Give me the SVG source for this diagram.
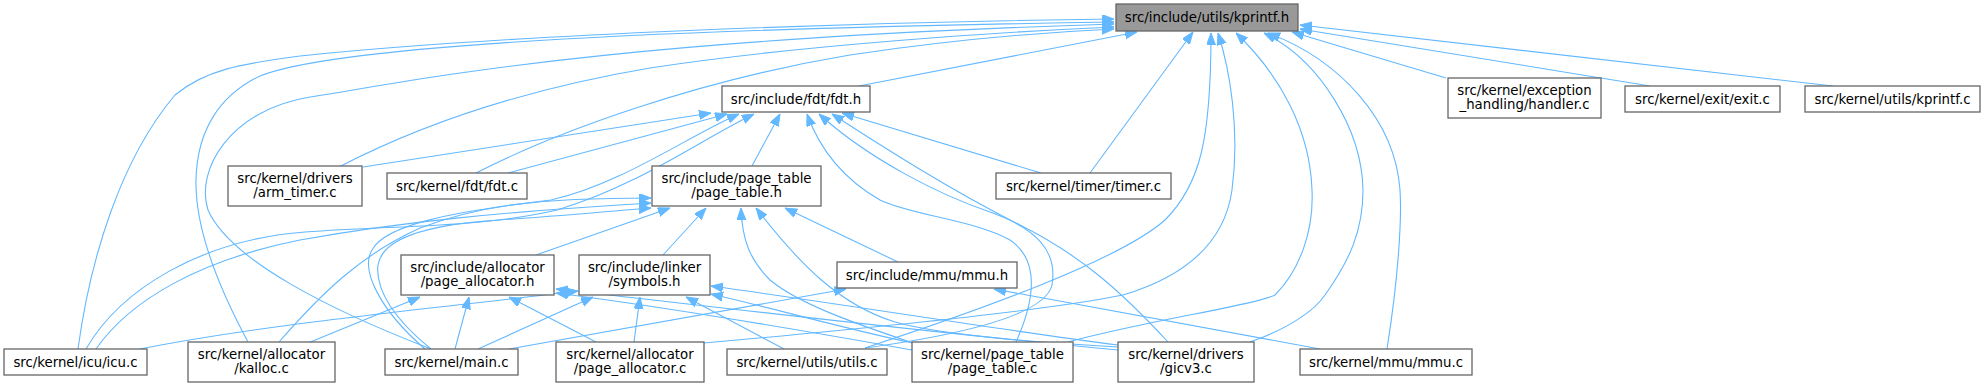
<svg xmlns="http://www.w3.org/2000/svg" width="1985" height="388" viewBox="0 0 1985 388">
<style>
.n rect{fill:#ffffff;stroke:#666666;stroke-width:1.3}
.n.root rect{fill:#999999}
.n text{font-family:"DejaVu Sans","Liberation Sans",sans-serif;font-size:13.3px;fill:#000000;text-anchor:middle}
.e path{fill:none;stroke:#63b8ff;stroke-width:1.1;marker-end:url(#ah)}
</style>
<defs>
<marker id="ah" markerWidth="12" markerHeight="10" refX="12" refY="4.5" orient="auto" markerUnits="userSpaceOnUse">
<path d="M0,0 L12,4.5 L0,9 z" fill="#63b8ff" stroke="#63b8ff" stroke-width="1"/>
</marker>
</defs>
<g id="edges" class="e">
<!-- to kprintf.h -->
<path d="M78,349 C90,260 120,160 175,95 C205,70 240,64 300,56 C500,35 850,22 1114,19"/>
<path d="M248,342 C220,290 195,230 196,180 C197,130 220,95 260,76 C330,48 600,30 1114,22"/>
<path d="M431,349 C330,310 230,260 208,210 C195,170 230,110 310,97 C420,80 600,40 1114,24"/>
<path d="M339,167 C420,125 520,90 650,68 C800,45 1000,32 1114,27"/>
<path d="M476,173 C560,130 700,80 850,55 C950,40 1050,32 1114,29"/>
<path d="M859,86 L1137,32"/>
<path d="M1090,173 L1193,32"/>
<path d="M865,348 C980,310 1120,260 1165,220 C1200,185 1211,140 1211,33"/>
<path d="M704,343 C850,330 1050,310 1123,295 C1190,275 1225,240 1232,190 C1240,130 1230,70 1218,33"/>
<path d="M1068,342 C1150,320 1255,305 1275,295 C1300,270 1314,230 1312,190 C1310,130 1280,75 1236,33"/>
<path d="M1250,342 C1290,328 1315,310 1325,295 C1350,260 1363,230 1363,190 C1362,130 1320,60 1264,33"/>
<path d="M1387,349 C1398,280 1402,220 1400,190 C1395,120 1340,60 1268,33"/>
<path d="M1446,78 L1292,32"/>
<path d="M1650,86 L1300,29"/>
<path d="M1833,86 L1300,25"/>
<!-- to fdt.h -->
<path d="M363,167 L711,113"/>
<path d="M508,173 L727,114"/>
<path d="M425,349 C380,310 360,270 372,250 C385,225 450,212 551,200 C620,185 690,135 739,114"/>
<path d="M86,349 C120,290 200,240 305,232 C400,225 480,228 557,210 C640,185 700,140 754,114"/>
<path d="M752,166 L780,114"/>
<path d="M1016,342 C1035,300 1040,260 1010,240 C975,220 910,215 880,200 C845,180 820,150 807,114"/>
<path d="M865,348 C960,335 1045,315 1052,285 C1058,250 1035,228 990,212 C940,195 870,160 819,114"/>
<path d="M1168,342 C1120,290 1080,255 1020,225 C950,190 880,145 832,114"/>
<path d="M1041,173 L842,113"/>
<!-- to page_table.h -->
<path d="M96,349 C130,300 200,260 300,240 C400,222 500,212 651,203"/>
<path d="M279,342 C320,295 360,255 420,228 C480,205 540,198 651,198"/>
<path d="M431,349 C395,320 375,290 378,265 C382,240 420,225 500,220 C560,216 600,212 651,208"/>
<path d="M536,255 L670,208"/>
<path d="M663,255 L706,208"/>
<path d="M913,343 C860,325 800,305 770,280 C750,260 742,240 741,208"/>
<path d="M1118,347 C1030,342 940,335 895,322 C840,305 800,265 756,208"/>
<path d="M898,262 L785,208"/>
<!-- to page_allocator.h -->
<path d="M308,343 L420,297"/>
<path d="M455,349 L469,297"/>
<path d="M596,342 L509,297"/>
<path d="M912,350 C800,330 650,305 556,293"/>
<path d="M1118,350 C950,335 700,305 556,289"/>
<!-- to symbols.h -->
<path d="M140,349 C260,325 420,310 578,291"/>
<path d="M478,349 L593,297"/>
<path d="M634,342 L640,297"/>
<path d="M784,349 L686,297"/>
<path d="M913,343 C850,330 780,310 711,294"/>
<path d="M1118,345 C1000,330 850,305 711,286"/>
<!-- to mmu.h -->
<path d="M509,349 L846,289"/>
<path d="M1320,349 L994,289"/>
</g>
<g id="n_kprintf_h" class="n root"><rect x="1116" y="4" width="182" height="27"/><text x="1207" y="22">src/include/utils/kprintf.h</text></g>
<g id="n_fdt_h" class="n"><rect x="722" y="86" width="148" height="26"/><text x="796" y="103.5">src/include/fdt/fdt.h</text></g>
<g id="n_handler_c" class="n"><rect x="1448" y="78" width="153" height="40"/><text x="1524.5" y="94.5">src/kernel/exception</text><text x="1524.5" y="108.5">_handling/handler.c</text></g>
<g id="n_exit_c" class="n"><rect x="1625" y="86" width="155" height="26"/><text x="1702.5" y="103.5">src/kernel/exit/exit.c</text></g>
<g id="n_kprintf_c" class="n"><rect x="1805" y="86" width="175" height="26"/><text x="1892.5" y="103.5">src/kernel/utils/kprintf.c</text></g>
<g id="n_arm_timer_c" class="n"><rect x="228" y="166" width="134" height="40"/><text x="295" y="182.5">src/kernel/drivers</text><text x="295" y="196.5">/arm_timer.c</text></g>
<g id="n_fdt_c" class="n"><rect x="387" y="173" width="140" height="26"/><text x="457" y="190.5">src/kernel/fdt/fdt.c</text></g>
<g id="n_page_table_h" class="n"><rect x="652" y="166" width="169" height="40"/><text x="736.5" y="182.5">src/include/page_table</text><text x="736.5" y="196.5">/page_table.h</text></g>
<g id="n_timer_c" class="n"><rect x="996" y="173" width="175" height="26"/><text x="1083.5" y="190.5">src/kernel/timer/timer.c</text></g>
<g id="n_page_allocator_h" class="n"><rect x="401" y="255" width="153" height="40"/><text x="477.5" y="271.5">src/include/allocator</text><text x="477.5" y="285.5">/page_allocator.h</text></g>
<g id="n_symbols_h" class="n"><rect x="579" y="255" width="131" height="40"/><text x="644.5" y="271.5">src/include/linker</text><text x="644.5" y="285.5">/symbols.h</text></g>
<g id="n_mmu_h" class="n"><rect x="837" y="262" width="180" height="26"/><text x="927" y="279.5">src/include/mmu/mmu.h</text></g>
<g id="n_icu_c" class="n"><rect x="4" y="349" width="143" height="26"/><text x="75.5" y="366.5">src/kernel/icu/icu.c</text></g>
<g id="n_kalloc_c" class="n"><rect x="188" y="342" width="147" height="40"/><text x="261.5" y="358.5">src/kernel/allocator</text><text x="261.5" y="372.5">/kalloc.c</text></g>
<g id="n_main_c" class="n"><rect x="385" y="349" width="133" height="26"/><text x="451.5" y="366.5">src/kernel/main.c</text></g>
<g id="n_page_allocator_c" class="n"><rect x="556" y="342" width="148" height="40"/><text x="630" y="358.5">src/kernel/allocator</text><text x="630" y="372.5">/page_allocator.c</text></g>
<g id="n_utils_c" class="n"><rect x="727" y="349" width="160" height="26"/><text x="807" y="366.5">src/kernel/utils/utils.c</text></g>
<g id="n_page_table_c" class="n"><rect x="912" y="342" width="161" height="40"/><text x="992.5" y="358.5">src/kernel/page_table</text><text x="992.5" y="372.5">/page_table.c</text></g>
<g id="n_gicv3_c" class="n"><rect x="1118" y="342" width="136" height="40"/><text x="1186" y="358.5">src/kernel/drivers</text><text x="1186" y="372.5">/gicv3.c</text></g>
<g id="n_mmu_c" class="n"><rect x="1300" y="349" width="172" height="26"/><text x="1386" y="366.5">src/kernel/mmu/mmu.c</text></g>
</svg>
